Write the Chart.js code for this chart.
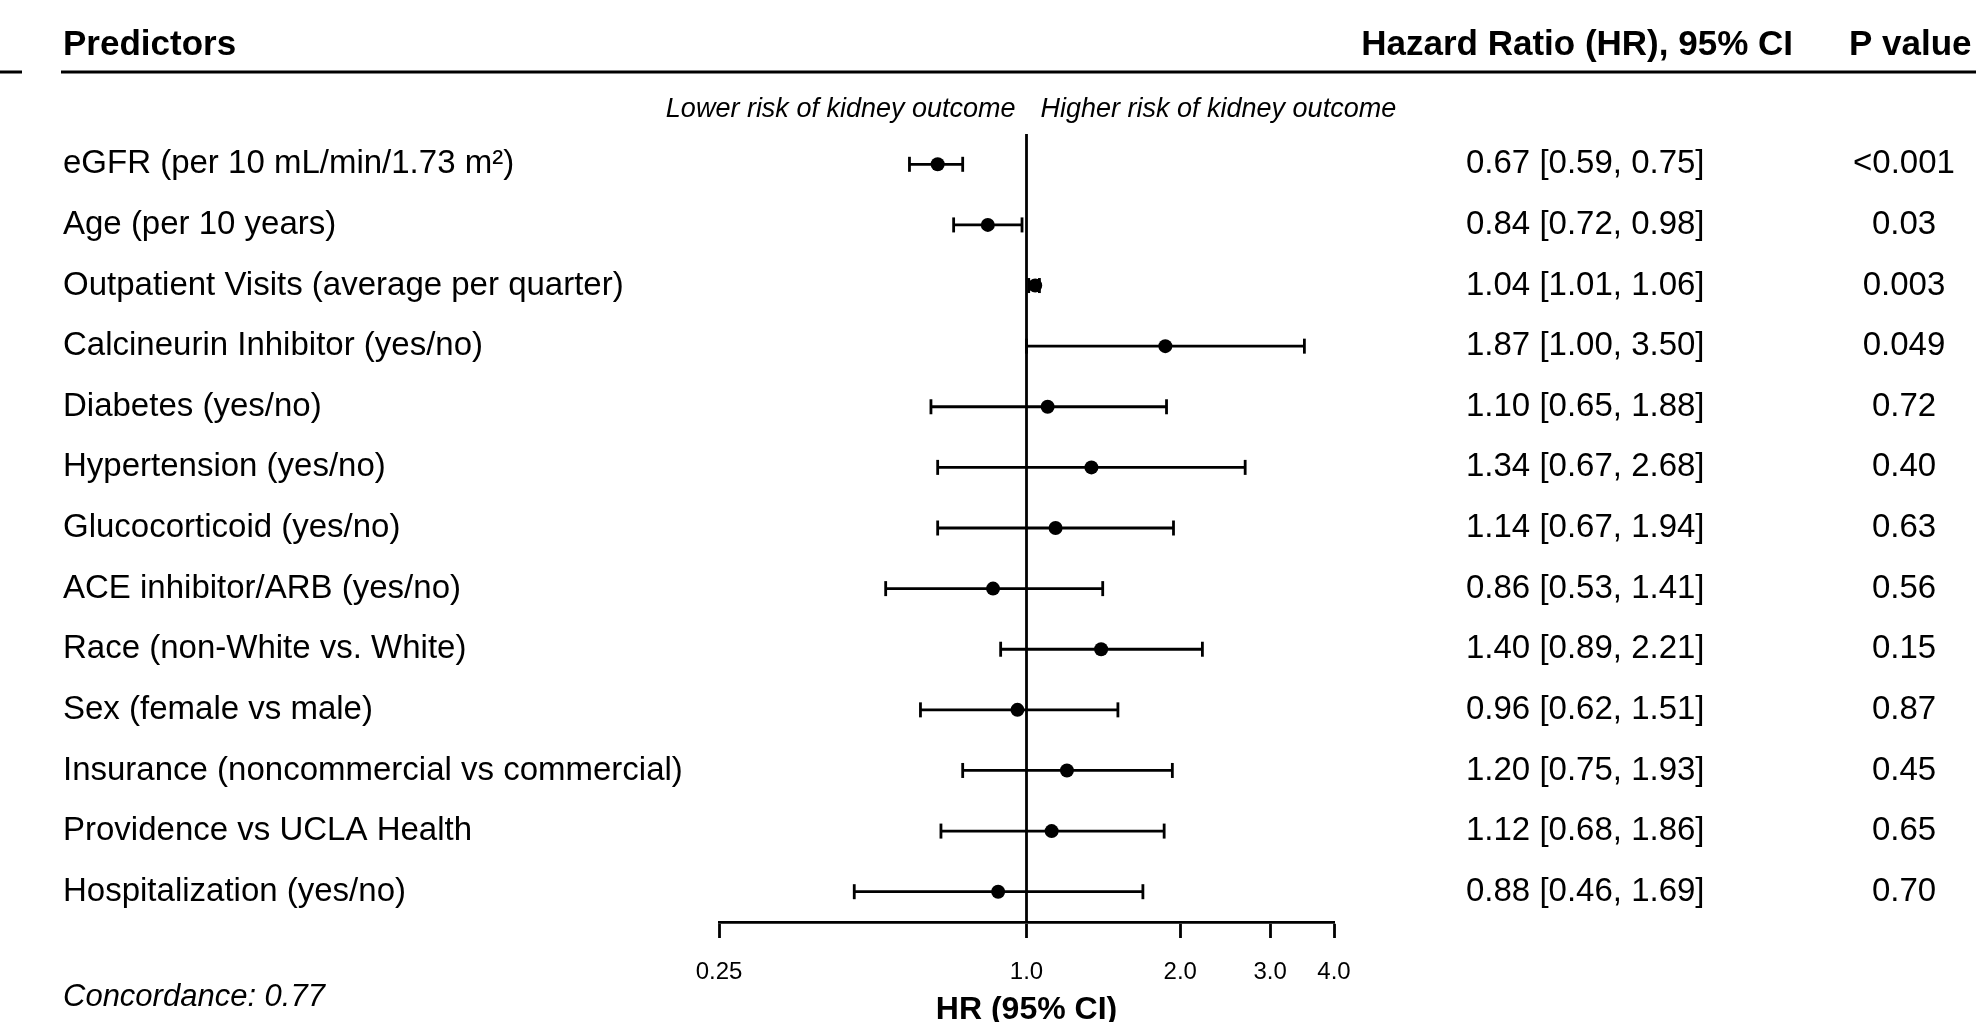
<!DOCTYPE html>
<html>
<head>
<meta charset="utf-8">
<script src="https://cdn.jsdelivr.net/npm/chart.js@4"></script>
<style>
  html, body { margin: 0; padding: 0; background: #fff; }
  #wrap { width: 1986px; height: 1022px; position: relative; }
</style>
</head>
<body>
<div id="wrap"><canvas id="forestChart"></canvas></div>
<script>
// ---- data ----
const predictors = [
  "eGFR (per 10 mL/min/1.73 m\u00b2)",
  "Age (per 10 years)",
  "Outpatient Visits (average per quarter)",
  "Calcineurin Inhibitor (yes/no)",
  "Diabetes (yes/no)",
  "Hypertension (yes/no)",
  "Glucocorticoid (yes/no)",
  "ACE inhibitor/ARB (yes/no)",
  "Race (non-White vs. White)",
  "Sex (female vs male)",
  "Insurance (noncommercial vs commercial)",
  "Providence vs UCLA Health",
  "Hospitalization (yes/no)"
];
const hrValues = [0.67, 0.84, 1.04, 1.87, 1.10, 1.34, 1.14, 0.86, 1.40, 0.96, 1.20, 1.12, 0.88];
const ciLower  = [0.59, 0.72, 1.01, 1.00, 0.65, 0.67, 0.67, 0.53, 0.89, 0.62, 0.75, 0.68, 0.46];
const ciUpper  = [0.75, 0.98, 1.06, 3.50, 1.88, 2.68, 1.94, 1.41, 2.21, 1.51, 1.93, 1.86, 1.69];
const pValues  = ["<0.001", "0.03", "0.003", "0.049", "0.72", "0.40", "0.63", "0.56", "0.15", "0.87", "0.45", "0.65", "0.70"];
const xTicks = [0.25, 1.0, 2.0, 3.0, 4.0];
const concordance = "0.77";

const FONT = "'Liberation Sans', Arial, Helvetica, sans-serif";

// whiskers: one small line dataset per row, caps drawn as rotated 'line' points
const ciDatasets = predictors.map((name, i) => ({
  type: "line",
  label: name,
  data: [{ x: ciLower[i], y: i }, { x: ciUpper[i], y: i }],
  borderColor: "#000",
  borderWidth: 2.8,
  pointStyle: "line",
  rotation: 90,
  pointRadius: 7.5,
  pointBorderWidth: 2.8,
  pointBorderColor: "#000",
  pointBackgroundColor: "#000"
}));

const pointDataset = {
  type: "scatter",
  label: "HR",
  data: hrValues.map((v, i) => ({ x: v, y: i })),
  pointStyle: "circle",
  pointRadius: 7,
  backgroundColor: "#000",
  borderColor: "#000",
  borderWidth: 0
};

// reference line at HR = 1 and all the text columns
const forestDecor = {
  id: "forestDecor",
  beforeDatasetsDraw(chart) {
    const { ctx, chartArea, scales: { x } } = chart;
    const px = x.getPixelForValue(1);
    ctx.save();
    ctx.strokeStyle = "#000";
    ctx.lineWidth = 2.8;
    ctx.beginPath();
    ctx.moveTo(px, chartArea.top);
    ctx.lineTo(px, chartArea.bottom);
    ctx.stroke();
    ctx.restore();
  },
  afterDraw(chart) {
    const { ctx, scales: { x, y } } = chart;
    const ref = x.getPixelForValue(1);
    ctx.save();
    ctx.fillStyle = "#000";
    ctx.textBaseline = "middle";

    // headers
    ctx.font = "bold 35px " + FONT;
    ctx.textAlign = "left";
    ctx.fillText("Predictors", 63, 45);
    ctx.textAlign = "right";
    ctx.fillText("Hazard Ratio (HR), 95% CI", 1793, 45);
    ctx.textAlign = "left";
    ctx.fillText("P value", 1849, 45);

    // header rule
    ctx.strokeStyle = "#000";
    ctx.lineWidth = 3;
    ctx.beginPath();
    ctx.moveTo(61, 72);
    ctx.lineTo(1976, 72);
    ctx.moveTo(0, 72);
    ctx.lineTo(22, 72);
    ctx.stroke();

    // direction labels
    ctx.font = "italic 27px " + FONT;
    ctx.textAlign = "right";
    ctx.fillText("Lower risk of kidney outcome", ref - 11, 109);
    ctx.textAlign = "left";
    ctx.fillText("Higher risk of kidney outcome", ref + 14, 109);

    // HR and p value columns
    ctx.font = "33px " + FONT;
    predictors.forEach((_, i) => {
      const py = y.getPixelForValue(i);
      ctx.textAlign = "left";
      ctx.fillText(
        hrValues[i].toFixed(2) + " [" + ciLower[i].toFixed(2) + ", " + ciUpper[i].toFixed(2) + "]",
        1466, py);
      ctx.textAlign = "center";
      ctx.fillText(pValues[i], 1904, py);
    });

    // concordance
    ctx.font = "italic 31px " + FONT;
    ctx.textAlign = "left";
    ctx.fillText("Concordance: " + concordance, 63, 997);
    ctx.restore();
  }
};

new Chart(document.getElementById("forestChart"), {
  data: { datasets: [pointDataset, ...ciDatasets] },
  options: {
    responsive: true,
    maintainAspectRatio: false,
    animation: false,
    layout: { padding: { left: 63, right: 652, top: 134, bottom: 0 } },
    plugins: {
      legend: { display: false },
      tooltip: { enabled: false }
    },
    scales: {
      x: {
        type: "logarithmic",
        position: "bottom",
        min: 0.25,
        max: 4,
        afterBuildTicks: scale => { scale.ticks = xTicks.map(v => ({ value: v })); },
        afterFit: scale => { scale.height = 100; },
        ticks: {
          color: "#000",
          font: { family: FONT, size: 24 },
          padding: 20,
          maxRotation: 0,
          autoSkip: false,
          callback: v => (v === 0.25 ? "0.25" : Number(v).toFixed(1))
        },
        grid: {
          drawOnChartArea: false,
          drawTicks: true,
          tickLength: 16,
          tickWidth: 2.8,
          tickColor: "#000"
        },
        border: { display: true, color: "#000", width: 2.8 },
        title: {
          display: true,
          text: "HR (95% CI)",
          color: "#000",
          font: { family: FONT, size: 32, weight: "bold", lineHeight: 0.75 },
          padding: 0
        }
      },
      y: {
        type: "linear",
        reverse: true,
        min: -0.5,
        max: 12.5,
        afterBuildTicks: scale => { scale.ticks = predictors.map((_, i) => ({ value: i })); },
        afterFit: scale => { scale.width = 656; },
        ticks: {
          color: "#000",
          font: { family: FONT, size: 33 },
          crossAlign: "far",
          autoSkip: false,
          callback: v => predictors[v]
        },
        grid: { display: false },
        border: { display: false }
      }
    }
  },
  plugins: [forestDecor]
});
</script>
</body>
</html>
